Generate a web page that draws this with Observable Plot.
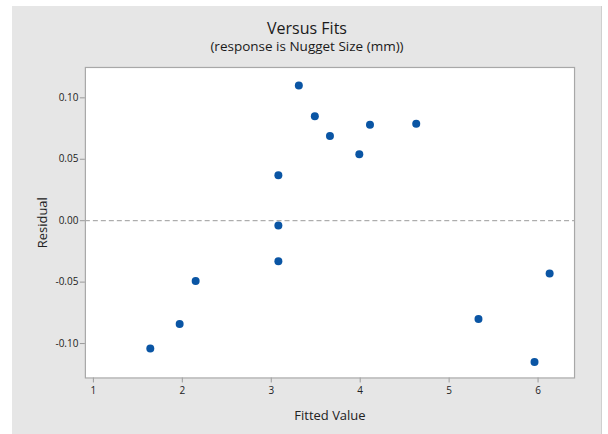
<!DOCTYPE html>
<html>
<head>
<meta charset="utf-8">
<script src="https://cdn.jsdelivr.net/npm/d3@7"></script>
<script src="https://cdn.jsdelivr.net/npm/@observablehq/plot@0.6"></script>
<style>
  html, body { margin: 0; padding: 0; background: #ffffff; }
  body { width: 608px; height: 434px; position: relative; overflow: hidden; font-family: "Open Sans", "Noto Sans", sans-serif; }
  #panel { position: absolute; left: 12px; top: 6px; width: 589px; height: 428px; background: #e6e6e6; border-right: 1px solid #cfcfcf; }
  #title { position: absolute; left: 0; width: 590px; top: 12px; text-align: center; font-size: 16px; color: #1a1a1a; line-height: 20px; }
  #subtitle { position: absolute; left: 0; width: 590px; top: 31px; text-align: center; font-size: 13.5px; color: #1a1a1a; line-height: 18px; }
  #chart { position: absolute; left: 0; top: 54px; }
</style>
</head>
<body>
<div id="panel">
  <div id="title">Versus Fits</div>
  <div id="subtitle">(response is Nugget Size (mm))</div>
  <div id="chart"></div>
</div>
<script>
const fitted   = [1.64, 1.97, 2.15, 3.08, 3.08, 3.08, 3.31, 3.49, 3.66, 3.99, 4.11, 4.63, 5.33, 5.96, 6.13];
const residual = [-0.104, -0.084, -0.049, 0.037, -0.004, -0.033, 0.110, 0.085, 0.069, 0.054, 0.078, 0.079, -0.080, -0.115, -0.043];
const xTicks = [1, 2, 3, 4, 5, 6];
const yTicks = [-0.10, -0.05, 0.00, 0.05, 0.10];
const xLabel = "Fitted Value";
const yLabel = "Residual";

const data = fitted.map((f, i) => ({fit: f, res: residual[i]}));

const chart = Plot.plot({
  width: 590,
  height: 374,
  marginLeft: 73,
  marginRight: 27,
  marginTop: 7,
  marginBottom: 56,
  style: {background: "transparent", fontFamily: "'Open Sans', 'Noto Sans', sans-serif", fontSize: "10px", color: "#222"},
  x: {domain: [0.91, 6.41]},
  y: {domain: [-0.128, 0.1247]},
  marks: [
    Plot.frame({fill: "white", stroke: "none"}),
    Plot.ruleY([0], {stroke: "#9a9a9a", strokeDasharray: "5,3"}),
    Plot.axisX({ticks: xTicks, tickFormat: d => String(d), tickSize: 5, tickPadding: 4, stroke: "#9a9a9a", label: xLabel, labelAnchor: "center", labelOffset: 42, labelArrow: "none", fontSize: 10}),
    Plot.axisY({ticks: yTicks, tickFormat: d => d.toFixed(2), tickSize: 5, tickPadding: 2, stroke: "#9a9a9a", label: yLabel, labelAnchor: "center", labelOffset: 48, labelArrow: "none", fontSize: 10}),
    Plot.dot(data, {x: "fit", y: "res", r: 4, fill: "#0a55a4", stroke: "none"}),
    Plot.frame({stroke: "#a8a8a8", strokeWidth: 1.2})
  ]
});
document.getElementById("chart").appendChild(chart);
// axis labels a bit larger than tick labels
chart.querySelectorAll("g[aria-label='x-axis label'] text, g[aria-label='y-axis label'] text").forEach(t => t.setAttribute("font-size", "13"));
</script>
</body>
</html>
